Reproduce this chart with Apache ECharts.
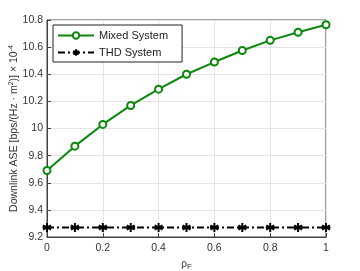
<!DOCTYPE html>
<html><head><meta charset="utf-8">
<script src="https://cdn.jsdelivr.net/npm/echarts@6/dist/echarts.min.js"></script>
<style>html,body{margin:0;padding:0;background:#fff}#c{width:360px;height:271px}</style>
</head><body><div id="c"></div>
<script>
const xValues = [0, 0.1, 0.2, 0.3, 0.4, 0.5, 0.6, 0.7, 0.8, 0.9, 1];
const mixedSystem = [9.69, 9.87, 10.03, 10.17, 10.29, 10.40, 10.49, 10.575, 10.65, 10.71, 10.765];
const thdSystem = [9.27, 9.27, 9.27, 9.27, 9.27, 9.27, 9.27, 9.27, 9.27, 9.27, 9.27];
const seriesNames = ['Mixed System', 'THD System'];

const asterisk = 'path://M0,-10L0,10M-8.66,-5L8.66,5M-8.66,5L8.66,-5M-10,0L10,0';
const chart = echarts.init(document.getElementById('c'), null, {renderer: 'canvas'});
const font = 'Liberation Sans, Arial, sans-serif';
chart.setOption({
  animation: false,
  grid: {left: 47, right: 34, top: 20, bottom: 34, show: true, borderColor: '#404040', borderWidth: 1,
    containLabel: false, outerBoundsMode: 'none'},
  legend: {
    orient: 'vertical', left: 53, top: 25, padding: [5, 14, 4, 4], itemGap: 6,
    backgroundColor: '#fff', borderColor: '#222', borderWidth: 1, borderRadius: 0,
    itemWidth: 36, itemHeight: 8,
    textStyle: {fontFamily: font, fontSize: 11, color: '#222'},
    data: seriesNames
  },
  xAxis: {
    type: 'value', min: 0, max: 1, interval: 0.2,
    name: '{a|ρ}{b|F}', nameLocation: 'middle', nameGap: 17,
    nameTextStyle: {rich: {a: {fontFamily: font, fontSize: 10, color: '#333'}, b: {fontFamily: font, fontSize: 8, color: '#333', padding: [6, 0, 0, 0]}}},
    axisLine: {show: true, lineStyle: {color: '#404040'}},
    axisTick: {show: true, inside: true, length: 4, lineStyle: {color: '#404040'}},
    axisLabel: {fontFamily: font, fontSize: 10.5, color: '#333', margin: 6},
    splitLine: {show: true, lineStyle: {color: '#e3e3e3'}}
  },
  yAxis: {
    type: 'value', min: 9.2, max: 10.8, interval: 0.2,
    name: '{t|Downlink ASE [bps/(Hz · m}{s|2}{t|)] × 10}{s|-4}', nameLocation: 'middle', nameGap: 26, nameRotate: 90,
    nameMoveOverlap: false,
    nameTextStyle: {rich: {
      t: {fontFamily: font, fontSize: 10.5, color: '#333', lineHeight: 14},
      s: {fontFamily: font, fontSize: 7, color: '#333', lineHeight: 14, padding: [0, 0, 6, 0]}
    }},
    axisLine: {show: true, lineStyle: {color: '#404040'}},
    axisTick: {show: true, inside: true, length: 4, lineStyle: {color: '#404040'}},
    axisLabel: {fontFamily: font, fontSize: 10.5, color: '#333', margin: 4,
      formatter: v => String(Math.round(v * 10) / 10)},
    splitLine: {show: true, lineStyle: {color: '#e3e3e3'}}
  },
  series: [
    {
      name: seriesNames[0], type: 'line',
      data: xValues.map((x, i) => [x, mixedSystem[i]]),
      symbol: 'circle', symbolSize: 7, showAllSymbol: true,
      lineStyle: {color: '#0b870b', width: 2},
      itemStyle: {color: '#fff', borderColor: '#0b870b', borderWidth: 2}
    },
    {
      name: seriesNames[1], type: 'line',
      data: xValues.map((x, i) => [x, thdSystem[i]]),
      symbol: asterisk, symbolSize: 9, showAllSymbol: true,
      lineStyle: {color: '#000', width: 2, type: [7, 3, 2, 3]},
      itemStyle: {color: '#000', borderColor: '#000', borderWidth: 2}
    }
  ]
});
</script></body></html>
